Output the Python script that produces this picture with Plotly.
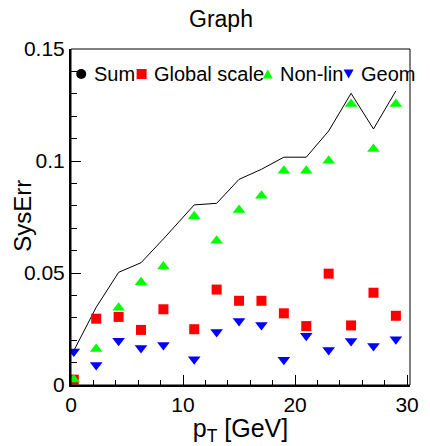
import plotly.graph_objects as go

# ---- data ----
pt = [0.25, 2.25, 4.25, 6.25, 8.25, 11, 13, 15, 17, 19, 21, 23, 25, 27, 29]
sum_err = [0.0153, 0.0347, 0.0503, 0.0546, 0.0652, 0.0804, 0.0811, 0.0918,
           0.0963, 0.1017, 0.1017, 0.1134, 0.1302, 0.1143, 0.1313]
global_scale = [0.0024, 0.0296, 0.0304, 0.0246, 0.0338, 0.0249, 0.0426, 0.0376,
                0.0376, 0.0320, 0.0263, 0.0497, 0.0266, 0.0412, 0.0309]
non_lin = [0.0024, 0.0161, 0.0345, 0.0459, 0.0529, 0.0753, 0.0644, 0.0781,
           0.0845, 0.0957, 0.0957, 0.1001, 0.1254, 0.1054, 0.1254]
geom = [0.0149, 0.0089, 0.0198, 0.0165, 0.0179, 0.0115, 0.0237, 0.0286,
        0.0268, 0.0113, 0.0220, 0.0156, 0.0196, 0.0174, 0.0204]

legend_names = ["Sum", "Global scale", "Non-lin", "Geom"]
colors = ["#000000", "#ff0000", "#00ff00", "#0000ff"]
y_ticks = [0, 0.05, 0.1, 0.15]
y_ticklabels = ["0", "0.05", "0.1", "0.15"]
x_ticks = [0, 10, 20, 30]
x_ticklabels = ["0", "10", "20", "30"]

FONT = "Liberation Sans, Arial, Helvetica, sans-serif"

# page geometry: the browser body has an 8px margin
OFF = 8
WIN_W, WIN_H = 430, 446
W, H = WIN_W - OFF, WIN_H - OFF
# plot frame in window pixels
FX0, FX1, FY0, FY1 = 71, 419, 49, 385
L, R, T, B = FX0 - OFF, WIN_W - FX1, FY0 - OFF, WIN_H - FY1
PW, PH = FX1 - FX0, FY1 - FY0


def px_x(p):
    return (p - FX0) / PW


def px_y(p):
    return (FY1 - p) / PH


fig = go.Figure()
fig.add_trace(go.Scatter(x=pt, y=sum_err, mode="lines", name=legend_names[0],
                         line=dict(color=colors[0], width=1), showlegend=False))
fig.add_trace(go.Scatter(x=pt, y=global_scale, mode="markers", name=legend_names[1],
                         marker=dict(symbol="square", size=10, color=colors[1]),
                         showlegend=False))
fig.add_trace(go.Scatter(x=pt, y=non_lin, mode="markers", name=legend_names[2],
                         marker=dict(symbol="triangle-up", size=11, color=colors[2]),
                         showlegend=False))
fig.add_trace(go.Scatter(x=pt, y=geom, mode="markers", name=legend_names[3],
                         marker=dict(symbol="triangle-down", size=11, color=colors[3]),
                         showlegend=False))

# ---- legend drawn inside the frame (ROOT style) ----
leg_y = px_y(74)
sym_px = [81.5, 143.5, 273, 356]
txt_px = [93, 154.5, 283.5, 366.5]
shapes = []
shapes.append(dict(type="circle", xref="paper", yref="paper", xsizemode="pixel",
                   ysizemode="pixel", xanchor=px_x(sym_px[0]), yanchor=leg_y,
                   x0=-5, x1=5, y0=-5, y1=5, fillcolor=colors[0], line=dict(width=0)))
shapes.append(dict(type="rect", xref="paper", yref="paper", xsizemode="pixel",
                   ysizemode="pixel", xanchor=px_x(sym_px[1]), yanchor=leg_y,
                   x0=-5, x1=5, y0=-5, y1=5, fillcolor=colors[1], line=dict(width=0)))
shapes.append(dict(type="path", xref="paper", yref="paper", xsizemode="pixel",
                   ysizemode="pixel", xanchor=px_x(sym_px[2]), yanchor=leg_y,
                   path="M-5,-4.5 L5,-4.5 L0,4.5 Z", fillcolor=colors[2], line=dict(width=0)))
shapes.append(dict(type="path", xref="paper", yref="paper", xsizemode="pixel",
                   ysizemode="pixel", xanchor=px_x(sym_px[3]), yanchor=leg_y,
                   path="M-5,4.5 L5,4.5 L0,-4.5 Z", fillcolor=colors[3], line=dict(width=0)))
# frame
shapes.append(dict(type="rect", xref="paper", yref="paper", x0=0, x1=1, y0=0, y1=1,
                   line=dict(color="black", width=1), layer="above"))

annotations = []
for name, tx in zip(legend_names, txt_px):
    annotations.append(dict(text=name, xref="paper", yref="paper", x=px_x(tx), y=leg_y,
                            xanchor="left", yanchor="middle", showarrow=False,
                            font=dict(family=FONT, size=20, color="black")))
# y axis title
annotations.append(dict(text="SysErr", xref="paper", yref="paper", x=px_x(20.5), y=px_y(216),
                        xanchor="center", yanchor="middle", textangle=-90, showarrow=False,
                        font=dict(family=FONT, size=24, color="black")))

fig.update_layout(
    width=W, height=H,
    margin=dict(l=L, r=R, t=T, b=B, pad=0),
    paper_bgcolor="white", plot_bgcolor="white",
    showlegend=False,
    title=dict(text="Graph", x=(221 - OFF) / W, xanchor="center", xref="container",
               y=1 - (19 - OFF) / H, yanchor="middle", yref="container",
               font=dict(family=FONT, size=23, color="black")),
    font=dict(family=FONT, color="black"),
    shapes=shapes,
    annotations=annotations,
)
fig.update_xaxes(range=[0, 30.26], showgrid=False, zeroline=False,
                 showline=True, linecolor="black", linewidth=2,
                 ticks="inside", ticklen=10, tickwidth=1, tickcolor="black",
                 tickvals=x_ticks, ticktext=x_ticklabels,
                 tickfont=dict(family=FONT, size=21, color="black"),
                 minor=dict(ticks="inside", ticklen=5, dtick=2, tick0=0,
                            tickcolor="black", tickwidth=1),
                 title=dict(text="p<sub>T</sub> [GeV]", standoff=1,
                            font=dict(family=FONT, size=25, color="black")))
fig.update_yaxes(range=[0, 0.15], showgrid=False, zeroline=False,
                 showline=True, linecolor="black", linewidth=2,
                 ticks="inside", ticklen=10, tickwidth=1, tickcolor="black",
                 tickvals=y_ticks, ticktext=y_ticklabels,
                 tickfont=dict(family=FONT, size=21, color="black"),
                 minor=dict(ticks="inside", ticklen=6, dtick=0.01, tick0=0,
                            tickcolor="black", tickwidth=1))

fig.write_html("out.html")
